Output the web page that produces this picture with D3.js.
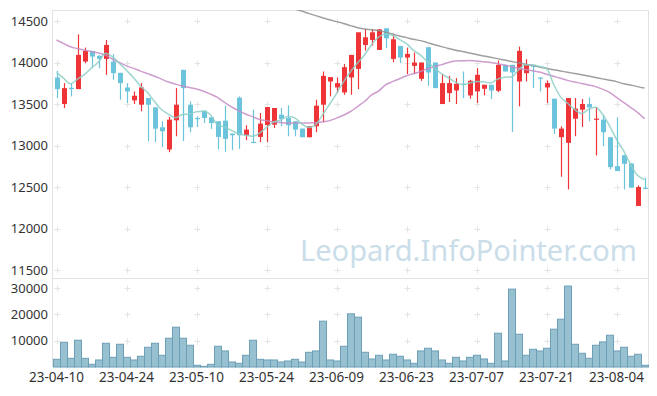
<!DOCTYPE html>
<html>
<head>
<meta charset="utf-8">
<script src="https://cdn.jsdelivr.net/npm/d3@7"></script>
<style>
  body { margin: 0; background: #fff; }
  text { font-family: "Noto Sans", "DejaVu Sans", sans-serif; }
</style>
</head>
<body>
<script>
// trading days, one per candle
var dates = [
  '23-04-10','23-04-11','23-04-12','23-04-13','23-04-14','23-04-17','23-04-18','23-04-19','23-04-20','23-04-21',
  '23-04-24','23-04-25','23-04-26','23-04-27','23-04-28','23-05-02','23-05-03','23-05-04','23-05-08','23-05-09',
  '23-05-10','23-05-11','23-05-12','23-05-15','23-05-16','23-05-17','23-05-18','23-05-19','23-05-22','23-05-23',
  '23-05-24','23-05-25','23-05-26','23-05-30','23-05-31','23-06-01','23-06-02','23-06-05','23-06-07','23-06-08',
  '23-06-09','23-06-12','23-06-13','23-06-14','23-06-15','23-06-16','23-06-19','23-06-20','23-06-21','23-06-22',
  '23-06-23','23-06-26','23-06-27','23-06-28','23-06-29','23-06-30','23-07-03','23-07-04','23-07-05','23-07-06',
  '23-07-07','23-07-10','23-07-11','23-07-12','23-07-13','23-07-14','23-07-17','23-07-18','23-07-19','23-07-20',
  '23-07-21','23-07-24','23-07-25','23-07-26','23-07-27','23-07-28','23-07-31','23-08-01','23-08-02','23-08-03',
  '23-08-04','23-08-07','23-08-08','23-08-09','23-08-10'];

var open = [13820,13500,13696,13680,14012,14140,14080,14044,14012,13876,
  13700,13544,13492,13572,13460,13220,12952,13304,13912,13492,
  13332,13420,13340,13292,13300,13144,13576,13124,13044,13104,
  13248,13252,13372,13332,13292,13204,13100,13232,13492,13772,
  13700,13640,13820,13924,14212,14272,14152,14412,14044,14200,
  14060,13960,13804,14184,14000,13500,13632,13664,13744,13604,
  13652,13684,13732,13660,13972,13972,13772,13872,13972,13820,
  13700,13564,13100,13032,13324,13432,13500,13312,13312,13100,
  12752,12884,12784,12272,12492];
var high = [13900,13752,13752,14340,14180,14140,14092,14272,14100,13876,
  13752,13652,13752,13572,13460,13292,13344,13692,13912,13532,
  13352,13420,13340,13292,13480,13144,13592,13244,13432,13392,
  13464,13452,13452,13484,13292,13204,13232,13552,13892,13824,
  13820,13984,14092,14364,14404,14404,14400,14412,14340,14200,
  14180,14120,14000,14184,14000,13864,13840,13812,13892,13792,
  13932,13732,13732,14024,13972,13972,14192,14040,13972,13820,
  13784,13564,13232,13572,13572,13560,13580,13464,13372,13100,
  13340,12884,12784,12520,12612];
var low = [13572,13452,13592,13680,13992,13932,13932,13852,13792,13552,
  13512,13500,13412,13052,13040,12980,12920,13112,13052,13160,
  13224,13272,13200,12952,12924,12944,12960,13064,13040,13040,
  13040,13212,13232,13112,13112,13100,13100,13160,13280,13592,
  13632,13612,13612,13680,14144,14204,14152,14172,14004,13992,
  13860,13864,13780,13720,13692,13500,13524,13500,13572,13564,
  13512,13604,13560,13644,13892,13164,13472,13772,13692,13652,
  13512,13140,12624,12472,13112,13224,13292,12880,12992,12712,
  12692,12472,12492,12272,12472];
var close = [13680,13692,13680,14092,14140,14072,14044,14212,13872,13752,
  13652,13600,13700,13492,13204,13172,13312,13492,13692,13220,
  13324,13332,13272,13104,13080,13124,13124,13192,13040,13264,
  13464,13452,13320,13244,13192,13100,13232,13480,13840,13824,
  13752,13944,14092,14364,14304,14364,14400,14292,14280,14060,
  14104,14000,14000,13880,13692,13752,13752,13744,13736,13780,
  13852,13732,13664,13972,13892,13880,14140,13980,13952,13816,
  13752,13204,13204,13572,13444,13500,13460,13324,13160,12740,
  12692,12780,12492,12500,12488];
var volume = [2920,9400,3300,10170,3300,1020,2670,9020,3690,8640,
  3690,2670,4070,7500,9020,4450,10930,15120,10930,8260,
  640,250,1020,7880,6100,1900,1400,4450,10170,2920,
  2670,2670,1900,2290,2920,1900,5590,6100,17410,2670,
  2290,7880,20200,18930,5590,3050,4450,2670,4830,4070,
  2670,1400,6100,7120,6100,2670,1400,3690,2290,3690,
  4450,3050,1400,12830,2290,29600,12450,4450,6730,6100,
  7120,14360,18170,30750,8640,5210,3300,8260,9530,12070,
  6100,7500,4070,4830,640];

// moving averages as drawn (5, 20 and 60 day)
var ma5 = [13880,13812,13744,13800,13857,13935,14006,14112,14068,13990,
  13906,13818,13715,13639,13530,13434,13376,13334,13374,13378,
  13408,13412,13368,13250,13222,13182,13141,13125,13112,13149,
  13217,13282,13308,13349,13334,13262,13218,13250,13369,13495,
  13626,13768,13890,13995,14091,14214,14305,14345,14328,14279,
  14227,14147,14089,14009,13935,13865,13815,13764,13735,13753,
  13773,13769,13753,13800,13822,13828,13910,13973,13969,13954,
  13928,13741,13586,13510,13435,13385,13436,13460,13378,13237,
  13075,12939,12773,12641,12590];
var ma20 = [14272,14230,14190,14168,14148,14132,14115,14090,14040,14000,
  13960,13930,13897,13866,13835,13800,13765,13740,13718,13700,
  13682,13655,13620,13580,13520,13465,13420,13380,13348,13314,
  13300,13284,13278,13272,13272,13272,13272,13274,13285,13300,
  13330,13365,13410,13470,13530,13610,13655,13730,13770,13805,
  13840,13866,13892,13925,13950,13975,14000,14020,14022,14024,
  14020,14010,14000,13985,13970,13950,13930,13915,13900,13885,
  13860,13835,13810,13785,13765,13748,13730,13710,13680,13640,
  13580,13520,13460,13400,13324];
var ma60 = [null,null,null,null,null,null,null,null,null,null,
  null,null,null,null,null,null,null,null,null,null,
  null,null,null,null,null,null,null,null,null,null,
  null,null,null,null,14645,14620,14592,14565,14540,14515,
  14493,14470,14445,14420,14405,14395,14385,14365,14343,14320,
  14300,14280,14264,14240,14215,14192,14170,14148,14132,14115,
  14097,14080,14064,14047,14030,14013,13997,13980,13963,13946,
  13930,13913,13898,13883,13868,13853,13837,13820,13803,13787,
  13770,13745,13730,13710,13692];

var priceTicks = [11500,12000,12500,13000,13500,14000,14500];
var volumeTicks = [10000,20000,30000];
var dateTicks = ['23-04-10','23-04-24','23-05-10','23-05-24','23-06-09','23-06-23','23-07-07','23-07-21','23-08-04'];

var width = 657, height = 396;
var left = 53, right = 648;
var priceTop = 10, priceBottom = 278, volBottom = 367;

var svg = d3.select("body").append("svg")
    .attr("width", width)
    .attr("height", height);

var x = d3.scaleBand().domain(dates).range([left, right]).padding(0);
var bw = x.bandwidth();
var cx = function(i) { return x(dates[i]) + bw / 2; };

var y = d3.scaleLinear().domain([11404, 14633]).range([priceBottom, priceTop]);
var yv = d3.scaleLinear().domain([0, 33815]).range([volBottom, priceBottom]);

// clip for the price panel
svg.append("clipPath").attr("id", "clipPrice")
  .append("rect").attr("x", left).attr("y", priceTop)
  .attr("width", right - left).attr("height", priceBottom - priceTop);

// grid crosses
var grid = svg.append("g").attr("stroke", "#e4e4e4").attr("stroke-width", 1);
function cross(px, py) {
  grid.append("line").attr("x1", px - 3).attr("x2", px + 3).attr("y1", py).attr("y2", py);
  grid.append("line").attr("x1", px).attr("x2", px).attr("y1", py - 3).attr("y2", py + 3);
}
dateTicks.forEach(function(d) {
  var px = Math.round(x(d) + bw / 2) + 0.5;
  priceTicks.forEach(function(t) { cross(px, Math.round(y(t)) + 0.5); });
  volumeTicks.forEach(function(t) { cross(px, Math.round(yv(t)) + 0.5); });
});

// frame
var frame = svg.append("g").attr("stroke", "#e2e2e2").attr("stroke-width", 1).attr("fill", "none");
frame.append("line").attr("x1", left).attr("x2", right).attr("y1", priceTop + 0.5).attr("y2", priceTop + 0.5);
frame.append("line").attr("x1", left).attr("x2", right).attr("y1", priceBottom + 0.5).attr("y2", priceBottom + 0.5);
frame.append("line").attr("x1", right + 0.5).attr("x2", right + 0.5).attr("y1", priceTop).attr("y2", volBottom);
frame.append("line").attr("x1", left - 0.5).attr("x2", left - 0.5).attr("y1", priceTop).attr("y2", volBottom);

// watermark
svg.append("text")
  .attr("x", 300).attr("y", 261)
  .attr("font-size", "29px")
  .attr("fill", "#cadde9")
  .attr("textLength", 337)
  .attr("lengthAdjust", "spacingAndGlyphs")
  .text("Leopard.InfoPointer.com");

// volume bars
svg.append("g").selectAll("rect").data(volume).join("rect")
  .attr("x", function(d, i) { return x(dates[i]) + 0.5; })
  .attr("y", function(d) { return yv(d); })
  .attr("width", bw)
  .attr("height", function(d) { return volBottom - yv(d); })
  .attr("fill", "#97c0d1")
  .attr("stroke", "#6d9fb6")
  .attr("stroke-width", 1);

// candles
var up = "#ee3437", down = "#6cc3dc";
var candles = svg.append("g").attr("clip-path", "url(#clipPrice)");
var idx = d3.range(dates.length);
candles.selectAll("line.wick").data(idx).join("line")
  .attr("class", "wick")
  .attr("x1", function(i) { return Math.round(cx(i)) + 0.5; })
  .attr("x2", function(i) { return Math.round(cx(i)) + 0.5; })
  .attr("y1", function(i) { return y(high[i]); })
  .attr("y2", function(i) { return y(low[i]); })
  .attr("stroke", function(i) { return close[i] >= open[i] ? up : down; })
  .attr("stroke-width", 1.2);
candles.selectAll("rect.body").data(idx).join("rect")
  .attr("class", "body")
  .attr("x", function(i) { return Math.round(cx(i)) - 2; })
  .attr("width", 5)
  .attr("y", function(i) { return y(Math.max(open[i], close[i])); })
  .attr("height", function(i) { return Math.max(1.2, Math.abs(y(open[i]) - y(close[i]))); })
  .attr("fill", function(i) { return close[i] >= open[i] ? up : down; });

// moving average lines
function maLine(values, color) {
  var line = d3.line()
    .defined(function(d) { return d != null; })
    .x(function(d, i) { return cx(i); })
    .y(function(d) { return y(d); })
    .curve(d3.curveMonotoneX);
  candles.append("path")
    .attr("d", line(values))
    .attr("fill", "none")
    .attr("stroke", color)
    .attr("stroke-width", 1.5)
    .attr("stroke-opacity", 0.85);
}
maLine(ma60, "#8e8e8e");
maLine(ma20, "#c68cc6");
maLine(ma5, "#8ccfc5");

// axes
var yAxis = svg.append("g")
  .attr("transform", "translate(" + left + ",0)")
  .call(d3.axisLeft(y).tickValues(priceTicks).tickSize(0).tickPadding(5).tickFormat(d3.format("d")));
var vAxis = svg.append("g")
  .attr("transform", "translate(" + left + ",0)")
  .call(d3.axisLeft(yv).tickValues(volumeTicks).tickSize(0).tickPadding(5).tickFormat(d3.format("d")));
var xAxis = svg.append("g")
  .attr("transform", "translate(0," + volBottom + ")")
  .call(d3.axisBottom(x).tickValues(dateTicks).tickSize(0).tickPadding(5));

[yAxis, vAxis, xAxis].forEach(function(g) {
  g.select(".domain").remove();
  g.selectAll("text")
    .attr("font-family", "'Noto Sans', sans-serif")
    .attr("font-size", "13px")
    .attr("fill", "#333");
});
xAxis.selectAll("text").attr("font-size", "13.5px");
</script>
</body>
</html>
